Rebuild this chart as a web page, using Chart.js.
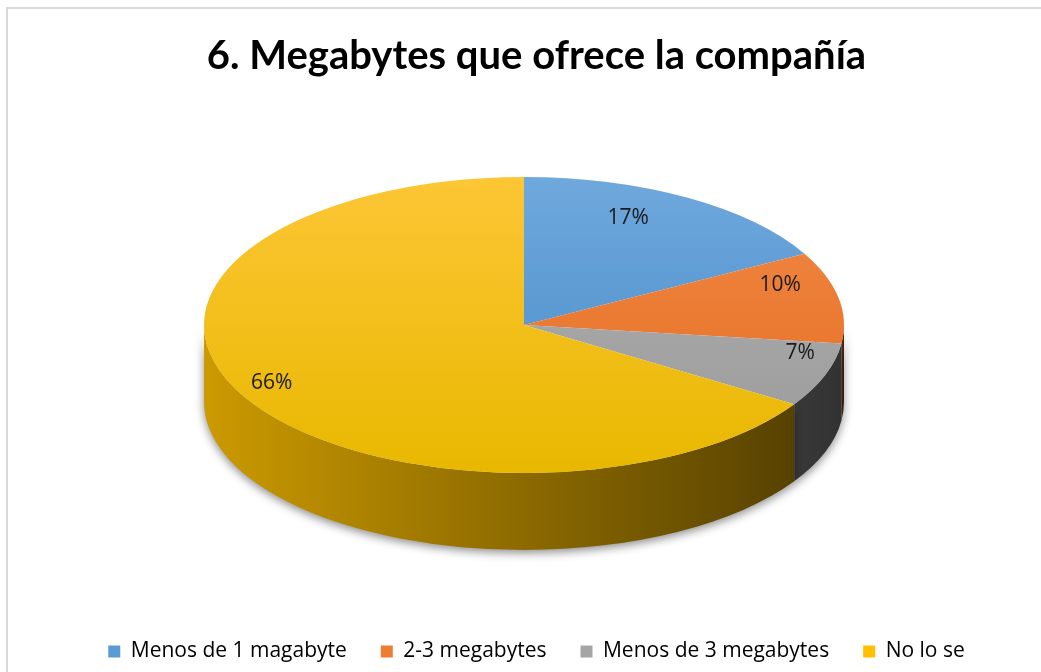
<!DOCTYPE html>
<html>
<head>
<meta charset="utf-8">
<script src="https://cdn.jsdelivr.net/npm/chart.js@4/dist/chart.umd.min.js"></script>
<style>
    html, body { margin: 0; padding: 0; background: #fff; }
    #frame {
        position: absolute; left: 6px; top: 7px; width: 1100px; height: 700px;
        border: 2px solid #d9d9d9; box-sizing: border-box;
    }
    #wrap { position: absolute; left: 0; top: 0; width: 1041px; height: 672px; }
</style>
</head>
<body>
<div id="frame"></div>
<div id="wrap"><canvas id="pieChart" width="1041" height="672"></canvas></div>
<script>
const categories = ['Menos de 1 magabyte', '2-3 megabytes', 'Menos de 3 megabytes', 'No lo se'];
const percentages = [17, 10, 7, 66];
const sliceColors = ['#5b9bd5', '#ed7d31', '#a5a5a5', '#ffc000'];
const topLight = ['#6fa8dc', '#f08a48', '#b0b0b0', '#fcc635'];
const topDark = ['#4589c8', '#e66a1c', '#9a9a9a', '#e8b800'];

// where the tilted pie sits on the page
const ellipse = { cx: 524, cy: 325, rx: 320, ry: 148, depth: 77 };
// label placement: fraction of radius, then a small vertical nudge
const labelPos = [[0.64, -25], [0.815, -17], [0.917, -18], [0.9, -6]];

function darken(hex, f) {
    const n = parseInt(hex.slice(1), 16);
    const r = Math.round(((n >> 16) & 255) * f);
    const g = Math.round(((n >> 8) & 255) * f);
    const b = Math.round((n & 255) * f);
    return `rgb(${r}, ${g}, ${b})`;
}

// maps the library's circular pie onto the ellipse
function applyTilt(ctx, arc) {
    const s = ellipse.rx / arc.outerRadius;
    ctx.translate(ellipse.cx, ellipse.cy);
    ctx.scale(s, ellipse.ry / arc.outerRadius);
    ctx.translate(-arc.x, -arc.y);
}

function project(angle, frac) {
    return {
        x: ellipse.cx + Math.cos(angle) * ellipse.rx * frac,
        y: ellipse.cy + Math.sin(angle) * ellipse.ry * frac
    };
}

const tiltPlugin = {
    id: 'tilt3d',
    beforeDatasetsDraw(chart) {
        const ctx = chart.ctx;
        const arcs = chart.getDatasetMeta(0).data;
        const { cx, cy, rx, ry, depth } = ellipse;
        // outer walls of the front half
        arcs.forEach((arc, i) => {
            const a1 = arc.startAngle, a2 = arc.endAngle;
            const ranges = [];
            for (let k = -1; k <= 1; k++) {
                const lo = Math.max(a1, k * 2 * Math.PI);
                const hi = Math.min(a2, k * 2 * Math.PI + Math.PI);
                if (hi > lo) ranges.push([lo, hi]);
            }
            ranges.forEach(([lo, hi]) => {
                ctx.save();
                const grad = ctx.createLinearGradient(cx - rx, 0, cx + rx, 0);
                grad.addColorStop(0, darken(sliceColors[i], 0.8));
                grad.addColorStop(0.5, darken(sliceColors[i], 0.55));
                grad.addColorStop(1, darken(sliceColors[i], 0.3));
                ctx.beginPath();
                ctx.ellipse(cx, cy, rx, ry, 0, lo, hi, false);
                ctx.ellipse(cx, cy + depth, rx, ry, 0, hi, lo, true);
                ctx.closePath();
                ctx.shadowColor = 'rgba(0, 0, 0, 0.45)';
                ctx.shadowBlur = 10;
                ctx.shadowOffsetY = 3;
                ctx.fillStyle = grad;
                ctx.fill();
                ctx.restore();
            });
        });
        ctx.save();
        applyTilt(ctx, arcs[0]);
    },
    afterDatasetsDraw(chart) {
        const ctx = chart.ctx;
        ctx.restore();
        const arcs = chart.getDatasetMeta(0).data;
        ctx.save();
        ctx.font = '21px "Open Sans", sans-serif';
        ctx.fillStyle = '#1a1a1a';
        ctx.textAlign = 'center';
        ctx.textBaseline = 'middle';
        arcs.forEach((arc, i) => {
            const mid = (arc.startAngle + arc.endAngle) / 2;
            const p = project(mid, labelPos[i][0]);
            ctx.fillText(percentages[i] + '%', p.x, p.y + labelPos[i][1]);
        });
        ctx.restore();
    }
};

function topGradient(context) {
    const chart = context.chart;
    const i = context.dataIndex;
    const area = chart.chartArea;
    if (!area) return sliceColors[i];
    const g = chart.ctx.createLinearGradient(0, area.top, 0, area.bottom);
    g.addColorStop(0, topLight[i]);
    g.addColorStop(1, topDark[i]);
    return g;
}

const pieCtx = document.getElementById('pieChart').getContext('2d');
const pieChart = new Chart(pieCtx, {
    type: 'pie',
    data: {
        labels: categories,
        datasets: [{
            data: percentages,
            backgroundColor: topGradient,
            borderWidth: 0
        }]
    },
    options: {
        responsive: false,
        animation: false,
        layout: {
            padding: { top: 24, bottom: 0, left: 32, right: 0 }
        },
        plugins: {
            title: {
                display: true,
                text: '6. Megabytes que ofrece la compañía',
                color: '#000',
                font: { family: 'Lato', size: 40, weight: 'bold' },
                padding: { top: 8, bottom: 10 }
            },
            legend: {
                position: 'bottom',
                labels: {
                    color: '#111',
                    boxWidth: 12,
                    boxHeight: 12,
                    padding: 34,
                    font: { family: '"Open Sans"', size: 21 },
                    generateLabels(chart) {
                        return categories.map((name, i) => ({
                            text: name,
                            fillStyle: sliceColors[i],
                            strokeStyle: sliceColors[i],
                            lineWidth: 0,
                            index: i
                        }));
                    }
                }
            },
            tooltip: { enabled: false }
        }
    },
    plugins: [tiltPlugin]
});
</script>
</body>
</html>
